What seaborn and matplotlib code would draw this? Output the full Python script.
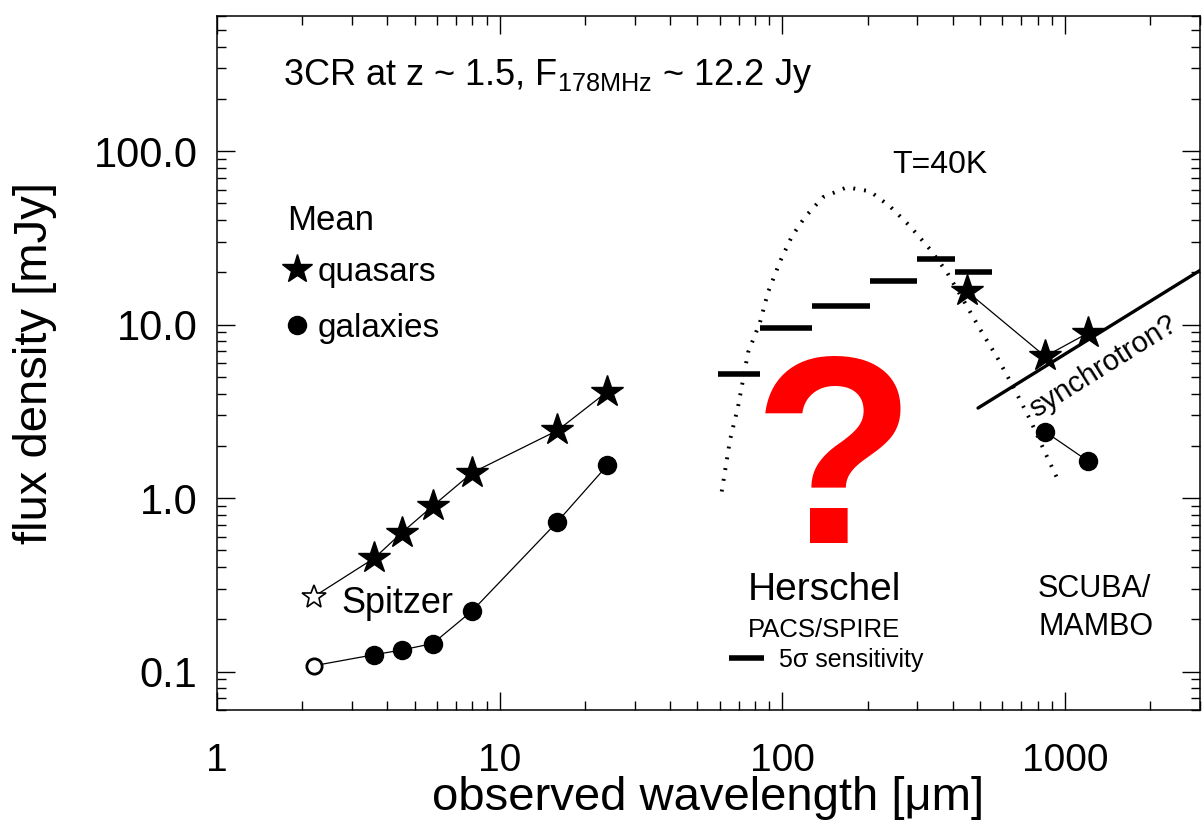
import matplotlib
matplotlib.use("Agg")
import matplotlib.pyplot as plt
import numpy as np
import pandas as pd
import seaborn as sns
from matplotlib.lines import Line2D
from matplotlib.ticker import FixedLocator, FixedFormatter

# mean mid-IR photometry (Spitzer), 2.2 um point drawn open
ir_wave = [2.2, 3.6, 4.5, 5.8, 8.0, 16, 24]
quasar_ir_flux = [0.27, 0.45, 0.63, 0.90, 1.40, 2.45, 4.1]
galaxy_ir_flux = [0.108, 0.125, 0.133, 0.145, 0.224, 0.73, 1.54]

# submm photometry (SCUBA/MAMBO)
quasar_submm_wave = [450, 850, 1200]
quasar_submm_flux = [15.5, 6.55, 8.9]
galaxy_submm_wave = [850, 1200]
galaxy_submm_flux = [2.41, 1.64]

# Herschel PACS/SPIRE 5 sigma sensitivity bars
herschel_lo = [59, 83, 127, 204, 299, 408]
herschel_hi = [83, 127, 204, 299, 408, 551]
herschel_sens = [5.2, 9.5, 12.7, 17.7, 23.8, 20.0]

# T=40K greybody
dust_wave = [61, 65.3, 69.7, 75.6, 83.3, 88.9, 98.1, 108, 120, 139, 169, 204,
             240, 283, 333, 382, 450, 500, 574, 654, 751, 863, 959]
dust_flux = [1.09, 2.17, 3.37, 6.9, 10.3, 15.3, 23.1, 32.2, 41.5, 54.1, 61.8, 58.6,
             48.0, 36.8, 27.1, 20.0, 12.7, 9.4, 6.5, 4.4, 2.84, 1.73, 1.2]

# synchrotron guess line
sync_wave = [492, 3000]
sync_flux = [3.3, 20.5]

sns.set_style("ticks")
plt.rcParams['font.family'] = ['Liberation Sans', 'DejaVu Sans']
plt.rcParams['mathtext.fontset'] = 'custom'
plt.rcParams['mathtext.rm'] = 'Liberation Sans'
plt.rcParams['mathtext.bf'] = 'Liberation Sans:bold'
for k in ['text.color', 'axes.labelcolor', 'xtick.color', 'ytick.color', 'axes.edgecolor']:
    plt.rcParams[k] = 'black'

fig = plt.figure(figsize=(12.03, 8.25), dpi=100)
ax = fig.add_axes([217 / 1203, 115 / 825, 983 / 1203, 694 / 825])
ax.set_xscale('log')
ax.set_yscale('log')

# dust curve
sns.lineplot(x=dust_wave, y=dust_flux, ax=ax, color='black', lw=2.8,
             linestyle=(0, (0.5, 2.3)), sort=False)

# sensitivity bars
for lo, hi, s in zip(herschel_lo, herschel_hi, herschel_sens):
    ax.plot([lo, hi], [s, s], color='black', lw=4, solid_capstyle='butt')

# synchrotron
sns.lineplot(x=sync_wave, y=sync_flux, ax=ax, color='black', lw=2.4)

# connecting lines
sns.lineplot(x=ir_wave, y=quasar_ir_flux, ax=ax, color='black', lw=0.9, sort=False)
sns.lineplot(x=ir_wave, y=galaxy_ir_flux, ax=ax, color='black', lw=0.9, sort=False)
sns.lineplot(x=quasar_submm_wave, y=quasar_submm_flux, ax=ax, color='black', lw=0.9, sort=False)
sns.lineplot(x=galaxy_submm_wave, y=galaxy_submm_flux, ax=ax, color='black', lw=0.9, sort=False)

# markers
ax.plot(ir_wave[1:], quasar_ir_flux[1:], ls='none', marker='*', ms=24, color='black', zorder=5)
ax.plot(ir_wave[:1], quasar_ir_flux[:1], ls='none', marker='*', ms=18, mfc='white', mec='black', mew=1.2, zorder=5)
ax.plot(quasar_submm_wave, quasar_submm_flux, ls='none', marker='*', ms=24, color='black', zorder=5)
ax.plot(ir_wave[1:], galaxy_ir_flux[1:], ls='none', marker='o', ms=13, color='black', zorder=5)
ax.plot(ir_wave[:1], galaxy_ir_flux[:1], ls='none', marker='o', ms=11, mfc='white', mec='black', mew=2, zorder=5)
ax.plot(galaxy_submm_wave, galaxy_submm_flux, ls='none', marker='o', ms=13, color='black', zorder=5)

ax.set_xlim(1, 3000)
ax.set_ylim(0.06, 600)

ax.xaxis.set_major_locator(FixedLocator([1, 10, 100, 1000]))
ax.xaxis.set_major_formatter(FixedFormatter(['1', '10', '100', '1000']))
ax.yaxis.set_major_locator(FixedLocator([0.1, 1, 10, 100]))
ax.yaxis.set_major_formatter(FixedFormatter(['0.1', '1.0', '10.0', '100.0']))

ax.tick_params(which='both', direction='in', top=True, right=True, width=1)
ax.tick_params(which='major', length=13)
ax.tick_params(which='minor', length=6.5)
ax.tick_params(axis='x', which='major', labelsize=28, pad=24)
ax.tick_params(axis='y', which='major', labelsize=30, pad=14)
for sp in ax.spines.values():
    sp.set_linewidth(1.1)

ax.set_xlabel('observed wavelength [μm]', fontsize=34)
ax.set_ylabel('flux density [mJy]', fontsize=34)
ax.xaxis.set_label_coords(0.5, -0.095)
ax.yaxis.set_label_coords(-0.163, 0.5)

tr = ax.transAxes
ax.text(0.067, 0.9006, r'3CR at z ~ 1.5, F$_{\mathregular{178MHz}}$ ~ 12.2 Jy',
        transform=tr, fontsize=26, va='baseline')
ax.text(0.6867, 0.7738, 'T=40K', transform=tr, fontsize=23, va='baseline')
ax.text(0.127, 0.1398, 'Spitzer', transform=tr, fontsize=26, va='baseline')
ax.text(0.6206, 0.2406, r'$\mathbf{?}$', transform=tr, fontsize=192,
        color='#ff0000', ha='center', va='baseline')
ax.text(0.5402, 0.1585, 'Herschel', transform=tr, fontsize=28, va='baseline')
ax.text(0.5402, 0.1052, 'PACS/SPIRE', transform=tr, fontsize=18.5, va='baseline')
ax.text(0.8352, 0.1628, 'SCUBA/', transform=tr, fontsize=22, va='baseline')
ax.text(0.8352, 0.1081, 'MAMBO', transform=tr, fontsize=22, va='baseline')
ax.text(0.9013, 0.4957, 'synchrotron?', transform=tr, fontsize=21, rotation=32,
        ha='center', va='center', rotation_mode='anchor')
ax.text(0.0712, 0.6916, 'Mean', transform=tr, fontsize=25, va='baseline')

# symbol legend
handles = [Line2D([], [], marker='*', ls='none', color='black', ms=22),
           Line2D([], [], marker='o', ls='none', color='black', ms=13)]
leg = ax.legend(handles, ['quasars', 'galaxies'], loc='upper left',
                bbox_to_anchor=(0.068, 0.653), frameon=False, fontsize=24,
                borderpad=0, handlelength=0.8, handletextpad=0.2,
                labelspacing=0.75, borderaxespad=0)
ax.add_artist(leg)

leg2 = ax.legend([Line2D([], [], color='black', lw=4, solid_capstyle='butt')],
                 ['5σ sensitivity'], loc='upper left', bbox_to_anchor=(0.5209, 0.0893),
                 frameon=False, fontsize=18, borderpad=0, handlelength=1.4,
                 handletextpad=0.6, borderaxespad=0)

fig.savefig('out.png', dpi=100)
